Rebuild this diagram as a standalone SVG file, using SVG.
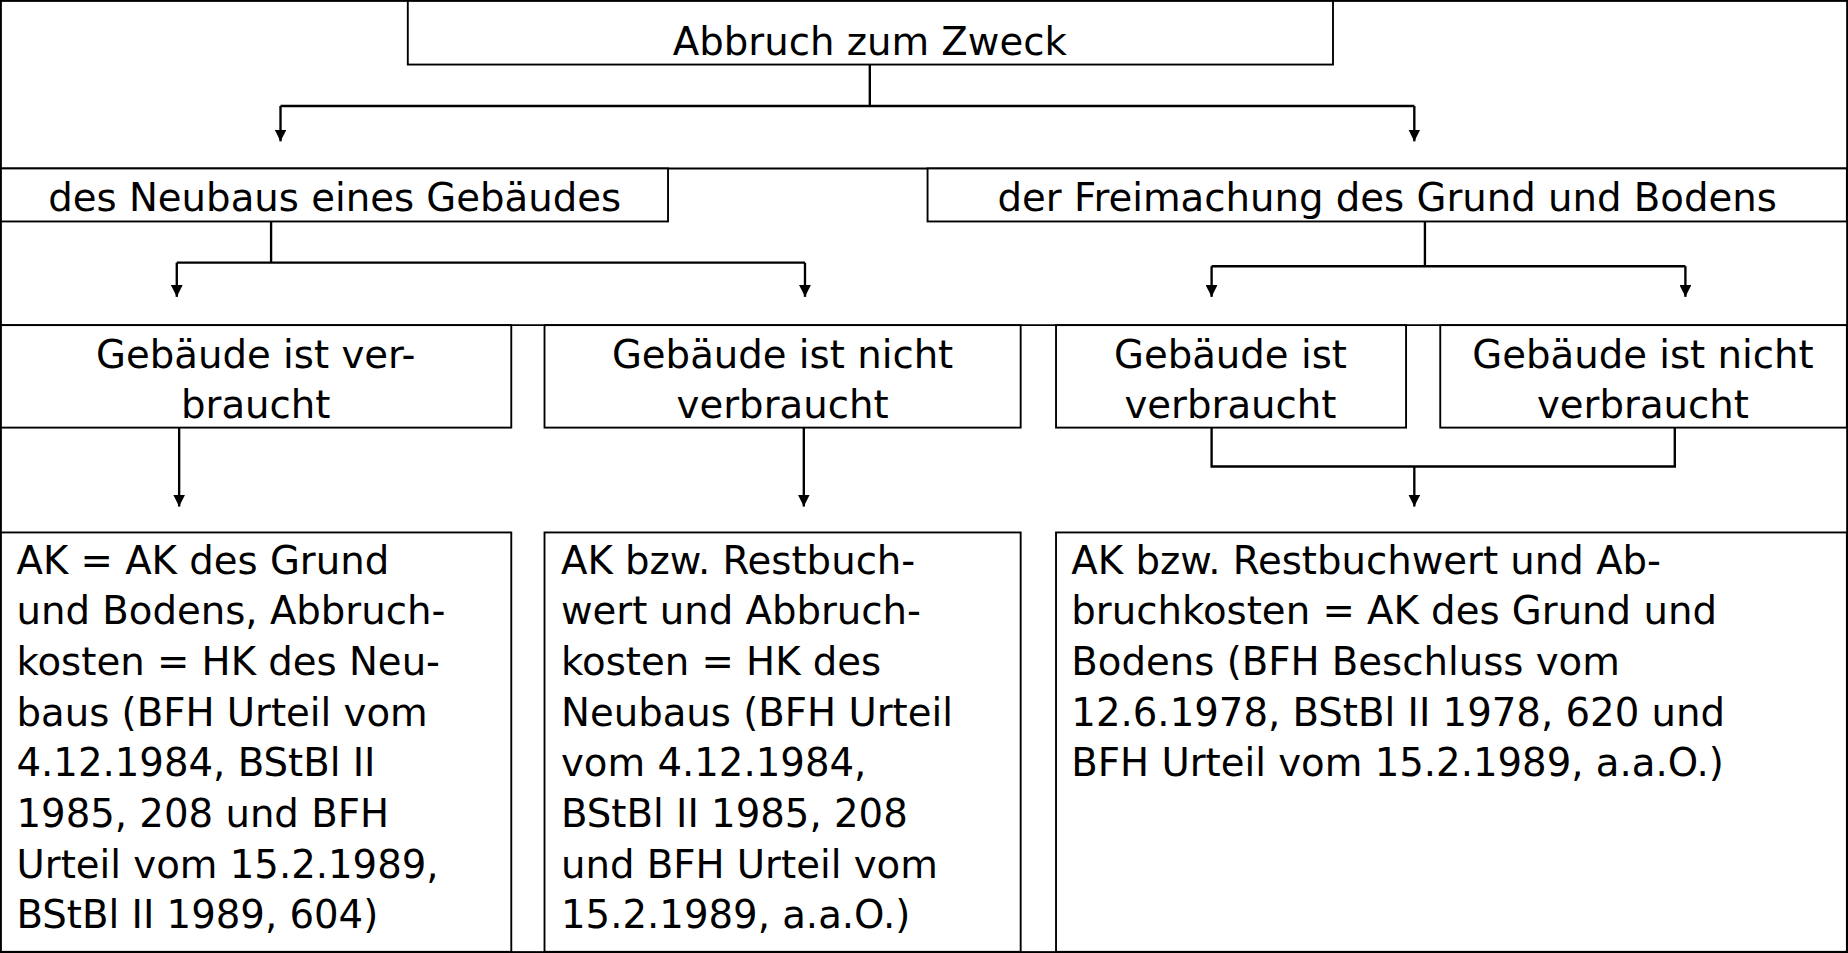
<svg xmlns="http://www.w3.org/2000/svg" width="1848" height="953" viewBox="0 0 1848 953">
<defs>
<marker id="a" viewBox="0 0 10 10" refX="10" refY="5" markerWidth="10" markerHeight="10" markerUnits="userSpaceOnUse" orient="auto"><path d="M0,0L10,5L0,10z" fill="#000"/></marker>
<style>
rect{fill:#fff;stroke:#000;stroke-width:1.6}
text{font-family:"DejaVu Sans",Verdana,sans-serif;font-size:32.8px;fill:#000}
.c{text-anchor:middle}
#conn path{fill:none;stroke:#000;stroke-width:2}
</style>
</defs>
<rect x="0" y="0" width="1848" height="953" style="fill:#fff;stroke:none"/>
<g transform="scale(1.1786,1.178)">
<rect x="0.8" y="0.8" width="1566.4" height="807.4"/>
<line x1="0" y1="143" x2="1568" y2="143" stroke="#000" stroke-width="1.6"/>
<line x1="0" y1="276" x2="1568" y2="276" stroke="#000" stroke-width="1.6"/>
<g id="n0"><rect x="346" y="0.8" width="785" height="54"/><text class="c" x="738" y="47">Abbruch zum Zweck</text></g>
<g id="n1"><rect x="0.8" y="143" width="566" height="45"/><text class="c" x="284" y="179">des Neubaus eines Gebäudes</text></g>
<g id="n2"><rect x="787" y="143" width="780" height="45"/><text class="c" x="1177" y="179">der Freimachung des Grund und Bodens</text></g>
<g id="n3"><rect x="0.8" y="276" width="433" height="87"/><text class="c" x="217" y="312">Gebäude ist ver-</text><text class="c" x="217" y="355">braucht</text></g>
<g id="n4"><rect x="462" y="276" width="404" height="87"/><text class="c" x="664" y="312">Gebäude ist nicht</text><text class="c" x="664" y="355">verbraucht</text></g>
<g id="n5"><rect x="896" y="276" width="297" height="87"/><text class="c" x="1044" y="312">Gebäude ist</text><text class="c" x="1044" y="355">verbraucht</text></g>
<g id="n6"><rect x="1222" y="276" width="345" height="87"/><text class="c" x="1394" y="312">Gebäude ist nicht</text><text class="c" x="1394" y="355">verbraucht</text></g>
<g id="n7"><rect x="0.8" y="452" width="433" height="356"/>
<text x="14" y="487">AK = AK des Grund</text><text x="14" y="530">und Bodens, Abbruch-</text><text x="14" y="573">kosten = HK des Neu-</text><text x="14" y="616">baus (BFH Urteil vom</text><text x="14" y="659">4.12.1984, BStBl II</text><text x="14" y="702">1985, 208 und BFH</text><text x="14" y="745">Urteil vom 15.2.1989,</text><text x="14" y="788">BStBl II 1989, 604)</text></g>
<g id="n8"><rect x="462" y="452" width="404" height="356"/>
<text x="476" y="487">AK bzw. Restbuch-</text><text x="476" y="530">wert und Abbruch-</text><text x="476" y="573">kosten = HK des</text><text x="476" y="616">Neubaus (BFH Urteil</text><text x="476" y="659">vom 4.12.1984,</text><text x="476" y="702">BStBl II 1985, 208</text><text x="476" y="745">und BFH Urteil vom</text><text x="476" y="788">15.2.1989, a.a.O.)</text></g>
<g id="n9"><rect x="896" y="452" width="671" height="356"/>
<text x="909" y="487">AK bzw. Restbuchwert und Ab-</text><text x="909" y="530">bruchkosten = AK des Grund und</text><text x="909" y="573">Bodens (BFH Beschluss vom</text><text x="909" y="616">12.6.1978, BStBl II 1978, 620 und</text><text x="909" y="659">BFH Urteil vom 15.2.1989, a.a.O.)</text></g>
<g id="conn">
<path d="M738,55V90M238,90H1200"/>
<path d="M238,90V120" marker-end="url(#a)"/><path d="M1200,90V120" marker-end="url(#a)"/>
<path d="M230,188V223M150,223H683"/>
<path d="M150,223V252" marker-end="url(#a)"/><path d="M683,223V252" marker-end="url(#a)"/>
<path d="M1209,188V226M1028,226H1430"/>
<path d="M1028,226V252" marker-end="url(#a)"/><path d="M1430,226V252" marker-end="url(#a)"/>
<path d="M152,363V430" marker-end="url(#a)"/><path d="M682,363V430" marker-end="url(#a)"/>
<path d="M1028,363V396H1421V363"/><path d="M1200,396V430" marker-end="url(#a)"/>
</g>
</g>
</svg>
